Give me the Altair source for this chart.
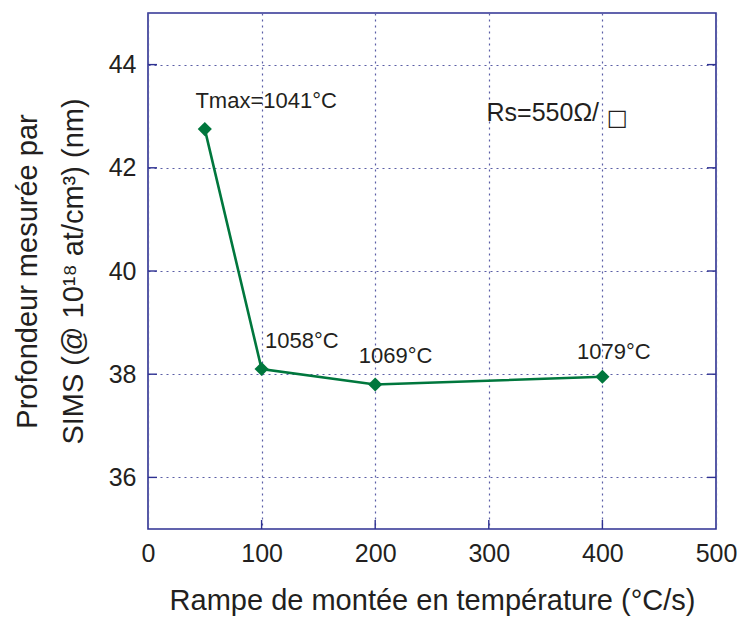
import altair as alt
import pandas as pd

# Data
ramp = [50, 100, 200, 400]
depth = [42.75, 38.1, 37.8, 37.95]

# Annotation texts and their anchor positions (data units)
label_c_text = ["Tmax=1041°C", "1069°C", "1079°C"]
label_c_x = [104, 218, 410]
label_c_y = [43.3, 38.35, 38.43]
label_l_text = ["1058°C"]
label_l_x = [103]
label_l_y = [38.65]
rs_text = ["Rs=550Ω/"]
rs_x = [298]
rs_y = [43.06]
box_text = ["□"]
box_x = [413]
box_y = [42.97]

x_ticks = [0, 100, 200, 300, 400, 500]
y_ticks = [36, 38, 40, 42, 44]

FONT = "Liberation Sans"
GREEN = "#00773d"
BLUE = "#2e3192"
GRID = "#5b5ea6"
INK = "#231f20"
W, H = 568, 516
TICK = 9

df = pd.DataFrame({"ramp": ramp, "depth": depth})
xs = alt.Scale(domain=[0, 500], nice=False)
ys = alt.Scale(domain=[35, 45], nice=False)

xaxis = alt.Axis(values=x_ticks, gridDash=[2, 4], gridColor=GRID, gridWidth=1.2,
                 domain=False, ticks=False, labelFontSize=25, labelPadding=12,
                 labelFont=FONT, labelColor=INK, labelFlush=False,
                 title="Rampe de montée en température (°C/s)", titleFont=FONT,
                 titleFontSize=29, titleFontWeight="normal", titleColor=INK,
                 titlePadding=20)
yaxis = alt.Axis(values=y_ticks, gridDash=[2, 4], gridColor=GRID, gridWidth=1.2,
                 domain=False, ticks=False, labelFontSize=25, labelPadding=12,
                 labelFont=FONT, labelColor=INK, labelFlush=False,
                 title=["Profondeur mesurée par", "SIMS (@ 10¹⁸ at/cm³) (nm)"],
                 titleFont=FONT, titleFontSize=29, titleFontWeight="normal",
                 titleColor=INK, titleLineHeight=46, titlePadding=20)

base = alt.Chart(df)
line = base.mark_line(color=GREEN, strokeWidth=2.6).encode(
    x=alt.X("ramp:Q", scale=xs, axis=xaxis),
    y=alt.Y("depth:Q", scale=ys, axis=yaxis),
)
pts = base.mark_point(shape="diamond", filled=True, color=GREEN, size=200, opacity=1).encode(
    x=alt.X("ramp:Q", scale=xs), y=alt.Y("depth:Q", scale=ys))

# inward tick marks (bottom, left, right) at the axis tick values
xt = alt.Chart(pd.DataFrame({"v": x_ticks[1:-1]})).mark_rule(color=BLUE, strokeWidth=1.4).encode(
    x=alt.X("v:Q", scale=xs), y=alt.value(H), y2=alt.value(H - TICK))
ytl = alt.Chart(pd.DataFrame({"v": y_ticks})).mark_rule(color=BLUE, strokeWidth=1.4).encode(
    y=alt.Y("v:Q", scale=ys), x=alt.value(0), x2=alt.value(TICK))
ytr = alt.Chart(pd.DataFrame({"v": y_ticks})).mark_rule(color=BLUE, strokeWidth=1.4).encode(
    y=alt.Y("v:Q", scale=ys), x=alt.value(W), x2=alt.value(W - TICK))

lc = alt.Chart(pd.DataFrame({"t": label_c_text, "x": label_c_x, "y": label_c_y})).mark_text(
    font=FONT, fontSize=22, align="center", baseline="middle", color=INK).encode(
    x=alt.X("x:Q", scale=xs), y=alt.Y("y:Q", scale=ys), text="t:N")
ll = alt.Chart(pd.DataFrame({"t": label_l_text, "x": label_l_x, "y": label_l_y})).mark_text(
    font=FONT, fontSize=22, align="left", baseline="middle", color=INK).encode(
    x=alt.X("x:Q", scale=xs), y=alt.Y("y:Q", scale=ys), text="t:N")
rs = alt.Chart(pd.DataFrame({"t": rs_text, "x": rs_x, "y": rs_y})).mark_text(
    font=FONT, fontSize=25, align="left", baseline="middle", color=INK).encode(
    x=alt.X("x:Q", scale=xs), y=alt.Y("y:Q", scale=ys), text="t:N")
bx = alt.Chart(pd.DataFrame({"t": box_text, "x": box_x, "y": box_y})).mark_text(
    font="DejaVu Sans", fontSize=22, align="center", baseline="middle", color=INK).encode(
    x=alt.X("x:Q", scale=xs), y=alt.Y("y:Q", scale=ys), text="t:N")

chart = alt.layer(xt, ytl, ytr, line, pts, lc, ll, rs, bx).properties(
    width=W, height=H,
    background="white",
    autosize=alt.AutoSizeParams(type="none"),
    padding={"left": 140, "top": 5, "right": 21, "bottom": 89},
).configure_view(stroke=BLUE, strokeWidth=1.6)

chart.save("out.html", embed_options={"renderer": "svg", "actions": False})
